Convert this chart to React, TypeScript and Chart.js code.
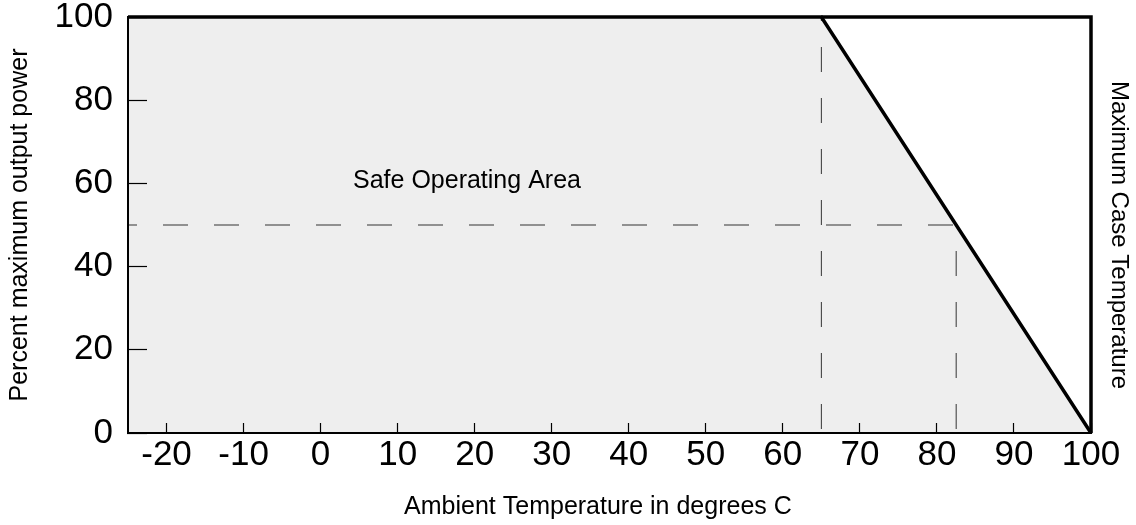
import React, { useEffect, useRef } from 'react';
import { Chart, registerables } from 'chart.js';

Chart.register(...registerables);

const FONT = "'Liberation Sans', Arial, Helvetica, sans-serif";

// ---- data ----
const xTickValues = [-20, -10, 0, 10, 20, 30, 40, 50, 60, 70, 80, 90, 100];
const yTickValues = [0, 20, 40, 60, 80, 100];

const curveTemps = [-25, 65, 100];
const curvePower = [100, 100, 0];

const frameTemps = [65, 100, 100];
const framePower = [100, 100, 0];

const halfLineTemps = [-25, 82.5];
const halfLinePower = [50, 50];

const kneeLineTemps = [65, 65];
const kneeLinePower = [100, 0];

const halfDropTemps = [82.5, 82.5];
const halfDropPower = [50, 0];

const areaLabelText = 'Safe Operating Area';
const areaLabelTemp = 19;
const areaLabelPower = 59;

const xTitle = 'Ambient Temperature in degrees C';
const yTitle = 'Percent maximum output power';
const y2Title = 'Maximum Case Temperature';

const pts = (xs: number[], ys: number[]) => xs.map((x, i) => ({ x, y: ys[i] }));

const labelPlugin = {
  id: 'areaLabel',
  afterDatasetsDraw(chart: any) {
    const { ctx, scales, chartArea } = chart;
    ctx.save();
    ctx.font = `25px ${FONT}`;
    ctx.fillStyle = '#000';
    ctx.textAlign = 'center';
    ctx.textBaseline = 'alphabetic';
    ctx.fillText(
      areaLabelText,
      scales.x.getPixelForValue(areaLabelTemp),
      scales.y.getPixelForValue(areaLabelPower)
    );
    // x-axis title
    ctx.textBaseline = 'middle';
    ctx.fillText(xTitle, chartArea.left + (chartArea.right - chartArea.left) * 0.488, chart.height - 18);
    // right-hand title
    ctx.font = `24px ${FONT}`;
    ctx.translate(chart.width - 17, (chartArea.top + chartArea.bottom) / 2 + 10);
    ctx.rotate(Math.PI / 2);
    ctx.fillText(y2Title, 0, 0);
    ctx.restore();
  },
};

export default function App() {
  const ref = useRef<HTMLCanvasElement | null>(null);

  useEffect(() => {
    if (!ref.current) return;
    Chart.defaults.font.family = FONT;
    const dashed = {
      borderColor: '#333',
      borderWidth: 1,
      borderDash: [25, 26],
      pointRadius: 0,
      fill: false,
      tension: 0,
      clip: false as any,
    };
    const chart = new Chart(ref.current, {
      type: 'line',
      data: {
        datasets: [
          {
            data: pts(curveTemps, curvePower),
            borderColor: '#000',
            borderWidth: 3.5,
            backgroundColor: '#eeeeee',
            fill: 'origin',
            pointRadius: 0,
            tension: 0,
            borderJoinStyle: 'miter',
            clip: false as any,
          },
          {
            data: pts(frameTemps, framePower),
            borderColor: '#000',
            borderWidth: 3.5,
            fill: false,
            pointRadius: 0,
            tension: 0,
            borderJoinStyle: 'miter',
            clip: false as any,
          },
          { ...dashed, data: pts(halfLineTemps, halfLinePower), borderDashOffset: 16 },
          { ...dashed, data: pts(kneeLineTemps, kneeLinePower), borderDashOffset: 21 },
          { ...dashed, data: pts(halfDropTemps, halfDropPower), borderDashOffset: 25 },
        ] as any,
      },
      options: {
        animation: false,
        responsive: true,
        maintainAspectRatio: false,
        events: [],
        layout: { padding: { top: 17, left: 0, right: 0, bottom: 0 } },
        plugins: {
          legend: { display: false },
          tooltip: { enabled: false },
          filler: { drawTime: 'beforeDatasetsDraw' } as any,
        },
        scales: {
          x: {
            type: 'linear',
            min: -25,
            max: 100,
            afterBuildTicks: (s: any) => {
              s.ticks = xTickValues.map((v) => ({ value: v }));
            },
            afterFit: (s: any) => {
              s.height = 92;
              s.paddingLeft = 0;
              s.paddingRight = 0;
            },
            ticks: {
              color: '#000',
              font: { size: 35, family: FONT },
              padding: 11,
              autoSkip: false,
              maxRotation: 0,
              callback: (v: any) => String(v),
            },
            grid: {
              display: true,
              drawOnChartArea: false,
              drawTicks: true,
              tickLength: -10,
              tickWidth: 1.2,
              tickColor: '#000',
              z: 1,
            } as any,
            border: { display: true, color: '#000', width: 2, z: 1 } as any,
            title: { display: false, text: xTitle },
          },
          y: {
            type: 'linear',
            position: 'left',
            min: 0,
            max: 100,
            afterBuildTicks: (s: any) => {
              s.ticks = yTickValues.map((v) => ({ value: v }));
            },
            afterFit: (s: any) => {
              s.width = 128;
              s.paddingTop = 0;
              s.paddingBottom = 0;
            },
            ticks: {
              color: '#000',
              font: { size: 35, family: FONT },
              padding: 34,
              callback: (v: any) => String(v),
            },
            grid: {
              display: true,
              drawOnChartArea: false,
              drawTicks: true,
              tickLength: -19,
              tickWidth: 1.2,
              tickColor: '#000',
              z: 1,
            } as any,
            border: { display: true, color: '#000', width: 2, z: 1 } as any,
            title: {
              display: true,
              text: yTitle,
              color: '#000',
              font: { size: 25, family: FONT },
              padding: { top: 5, bottom: 0 },
            },
          },
          y2: {
            type: 'linear',
            position: 'right',
            display: true,
            afterFit: (s: any) => {
              s.width = 45;
              s.paddingTop = 0;
              s.paddingBottom = 0;
            },
            ticks: { display: false },
            grid: { display: false },
            border: { display: false },
            title: { display: false, text: y2Title },
          },
        },
      } as any,
      plugins: [labelPlugin],
    });
    return () => chart.destroy();
  }, []);

  return (
    <div style={{ position: 'fixed', left: 0, top: 0, width: 1136, height: 525, background: '#fff' }}>
      <canvas ref={ref} />
    </div>
  );
}
